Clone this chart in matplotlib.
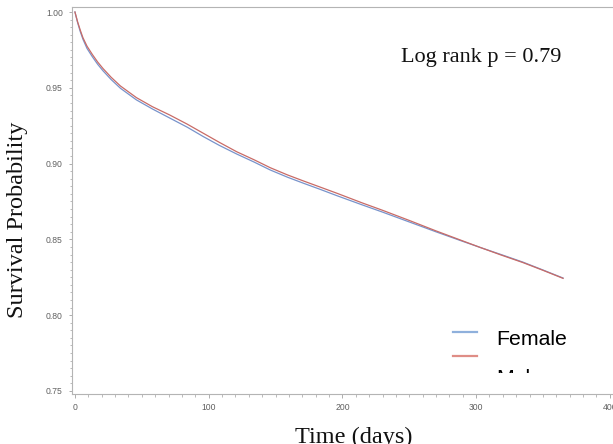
import matplotlib
matplotlib.use("Agg")
import matplotlib.pyplot as plt
from matplotlib.lines import Line2D
from matplotlib.ticker import MultipleLocator, FormatStrFormatter
from matplotlib.transforms import Bbox

# Kaplan-Meier survival estimates by sex (days since index)
days = [0, 2, 4, 6, 9, 13, 17, 21, 27, 34, 46, 58, 71, 84, 96, 108, 121,
        134, 146, 159, 171, 184, 196, 215, 230, 250, 270, 290, 303, 318,
        335, 350, 365]
female = [1.0, 0.993, 0.987, 0.982, 0.976, 0.9705, 0.9655, 0.9612, 0.9555,
          0.9497, 0.942, 0.936, 0.930, 0.924, 0.9178, 0.912, 0.9063, 0.901,
          0.8958, 0.891, 0.887, 0.8828, 0.8788, 0.8727, 0.868, 0.8615,
          0.855, 0.8487, 0.8447, 0.8402, 0.835, 0.8298, 0.8245]
male = [1.0, 0.9935, 0.988, 0.983, 0.9775, 0.972, 0.967, 0.9627, 0.957,
        0.9512, 0.9435, 0.9375, 0.932, 0.926, 0.920, 0.914, 0.9078, 0.9025,
        0.8973, 0.8925, 0.8885, 0.8843, 0.8804, 0.874, 0.8692, 0.8625,
        0.8556, 0.849, 0.8447, 0.8399, 0.8347, 0.8296, 0.8243]
group_labels = ["Female", "Male"]
p_text = "Log rank p = 0.79"

W, H = 613, 444
fig = plt.figure(figsize=(W / 100, H / 100), dpi=100)
fig.patch.set_facecolor("white")

# axes frame in pixel terms: left 72, right 620 (runs past the canvas), top 7, bottom 394
ax = fig.add_axes([72 / W, 1 - 394 / H, (620 - 72) / W, (394 - 7) / H])
ax.set_xlim(-2.2, 407.6)
ax.set_ylim(0.748, 1.0033)

c_f, c_m = "#7893cb", "#c96b66"
ax.plot(days, female, color=c_f, lw=0.9)
ax.plot(days, male, color=c_m, lw=0.9)

grey = "#a0a0a0"
for s in ax.spines.values():
    s.set_color("#b4b4b4")
    s.set_linewidth(0.8)

ax.xaxis.set_major_locator(MultipleLocator(100))
ax.xaxis.set_minor_locator(MultipleLocator(10))
ax.yaxis.set_major_locator(MultipleLocator(0.05))
ax.yaxis.set_minor_locator(MultipleLocator(0.005))
ax.yaxis.set_major_formatter(FormatStrFormatter("%.2f"))

ax.tick_params(axis="x", which="major", length=2.9, width=0.6, color=grey,
               pad=3.4, labelcolor="#606060", labelsize=6.2)
ax.tick_params(axis="x", which="minor", length=2.2, width=0.5, color=grey)
ax.tick_params(axis="y", which="major", length=2.4, width=0.6, color=grey,
               pad=4.2, labelcolor="#606060", labelsize=6.2)
ax.tick_params(axis="y", which="minor", length=1.7, width=0.5, color=grey)
for lab in ax.get_xticklabels() + ax.get_yticklabels():
    lab.set_fontfamily("Liberation Sans")

serif = "Liberation Serif"
fig.text(18 / W, 1 - 220 / H, "Survival Probability", rotation=90,
         ha="center", va="center", family=serif, size=17.5, color="#111111")
fig.text(354 / W, 1 / H, "Time (days)", ha="center", va="baseline",
         family=serif, size=17.5, color="#111111")
fig.text(401 / W, 1 - 61.7 / H, p_text, ha="left", va="baseline",
         family=serif, size=16, color="#111111")

# legend entries
leg_cols = ["#8fb0dc", "#df8d86"]
line_y = [332, 356]
text_base = [345, 384]
for lab, col, ly, ty in zip(group_labels, leg_cols, line_y, text_base):
    fig.add_artist(Line2D([453 / W, 477 / W], [1 - ly / H, 1 - ly / H],
                          color=col, lw=1.6, transform=fig.transFigure))
    t = fig.text(496 / W, 1 - ty / H, lab, ha="left", va="baseline",
                 family="Liberation Sans", size=15.3, color="black")
    if lab == "Male":
        t.set_clip_box(Bbox.from_extents(0, H - 373, W, H))
        t.set_clip_on(True)

fig.savefig("out.png", dpi=100, facecolor="white")
